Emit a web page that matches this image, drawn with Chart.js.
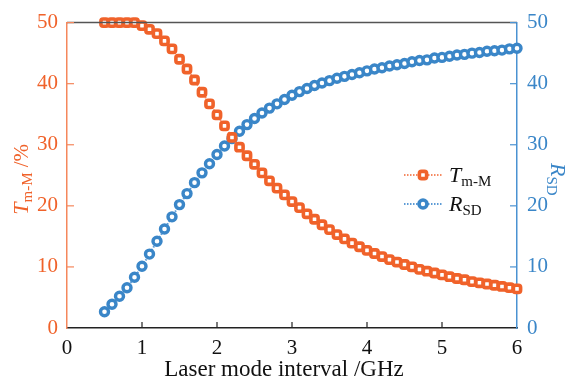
<!DOCTYPE html>
<html><head><meta charset="utf-8">
<script src="https://cdn.jsdelivr.net/npm/chart.js@4.4.1/dist/chart.umd.min.js"></script>
<style>html,body{margin:0;padding:0;background:#fff}#wrap{width:566px;height:380px}</style>
</head><body><div id="wrap"><canvas id="c" width="566" height="380"></canvas></div>
<script>
const xs = [0.5,0.6,0.7,0.8,0.9,1.0,1.1,1.2,1.3,1.4,1.5,1.6,1.7,1.8,1.9,2.0,2.1,2.2,2.3,2.4,2.5,2.6,2.7,2.8,2.9,3.0,3.1,3.2,3.3,3.4,3.5,3.6,3.7,3.8,3.9,4.0,4.1,4.2,4.3,4.4,4.5,4.6,4.7,4.8,4.9,5.0,5.1,5.2,5.3,5.4,5.5,5.6,5.7,5.8,5.9,6.0];
const tmm = [50,50,50,50,50,49.5,48.9,48.2,47.0,45.7,44.0,42.4,40.6,38.6,36.7,34.9,33.1,31.2,29.6,28.2,26.8,25.4,24.1,22.9,21.8,20.7,19.7,18.7,17.8,16.9,16.1,15.3,14.6,13.9,13.3,12.7,12.2,11.7,11.2,10.8,10.4,10.0,9.6,9.3,9.0,8.7,8.4,8.1,7.9,7.6,7.4,7.2,7.0,6.8,6.6,6.4];
const rsd = [2.65,3.9,5.2,6.6,8.3,10.1,12.1,14.2,16.2,18.2,20.2,22.0,23.8,25.4,26.9,28.4,29.8,31.0,32.2,33.3,34.3,35.2,36.0,36.7,37.4,38.1,38.7,39.2,39.7,40.1,40.5,40.9,41.2,41.5,41.8,42.1,42.4,42.6,42.9,43.1,43.3,43.6,43.8,43.9,44.2,44.3,44.5,44.7,44.8,45.0,45.1,45.3,45.4,45.5,45.7,45.8];
const xTicks = [0,1,2,3,4,5,6];
const yTicks = [0,10,20,30,40,50];
const xTitle = 'Laser mode interval /GHz';
const leftTitle = [['T','i'],['m-M','s'],[' /%','n']];
const rightTitle = [['R','i'],['SD','s']];

const ORANGE = '#F0622A', ORANGE_AX = '#F5875C';
const BLUE = '#3A86C8', BLUE_AX = '#4A92D2';
const SERIF = '"Liberation Serif", "DejaVu Serif", serif';

function segFont(kind){
  if(kind==='i') return 'italic 22px ' + SERIF;
  if(kind==='s') return '15px ' + SERIF;
  return '21px ' + SERIF;
}
function richWidth(ctx, segs){
  let w=0; for(const [t,k] of segs){ctx.font=segFont(k); w+=ctx.measureText(t).width;} return w;
}
function drawRich(ctx, segs, x, y){
  for(const [t,k] of segs){
    ctx.font=segFont(k);
    const dy = k==='s'?4:0;
    ctx.fillText(t,x,y+dy);
    x+=ctx.measureText(t).width;
  }
}

const decor = {
  id:'decor',
  afterDraw(chart){
    const ctx=chart.ctx, a=chart.chartArea;
    const sx=chart.scales.x, yl=chart.scales.yL, yr=chart.scales.yR;
    ctx.save();
    ctx.strokeStyle='#555'; ctx.lineWidth=1.5;
    ctx.beginPath(); ctx.moveTo(a.left,a.top); ctx.lineTo(a.right,a.top); ctx.stroke();
    ctx.lineWidth=1.2;
    ctx.strokeStyle='#222';
    for(const v of xTicks){const p=sx.getPixelForValue(v); if(v===0||v===6) continue; ctx.beginPath(); ctx.moveTo(p,a.bottom); ctx.lineTo(p,a.bottom-6); ctx.stroke();}
    ctx.strokeStyle=ORANGE_AX;
    for(const v of yTicks){const p=yl.getPixelForValue(v); if(v===0) continue; ctx.beginPath(); ctx.moveTo(a.left,p); ctx.lineTo(a.left+7,p); ctx.stroke();}
    ctx.strokeStyle=BLUE_AX;
    for(const v of yTicks){const p=yr.getPixelForValue(v); if(v===0) continue; ctx.beginPath(); ctx.moveTo(a.right,p); ctx.lineTo(a.right-7,p); ctx.stroke();}
    ctx.fillStyle='#111'; ctx.font='23px '+SERIF; ctx.textAlign='center'; ctx.textBaseline='alphabetic';
    ctx.fillText(xTitle,(a.left+a.right)/2-8,376);
    ctx.textAlign='left';
    ctx.save(); ctx.fillStyle=ORANGE;
    const cy=(a.top+a.bottom)/2+4;
    ctx.translate(28,cy); ctx.rotate(-Math.PI/2);
    const wl=richWidth(ctx,leftTitle); drawRich(ctx,leftTitle,-wl/2,0);
    ctx.restore();
    ctx.save(); ctx.fillStyle=BLUE;
    ctx.translate(551,cy); ctx.rotate(Math.PI/2);
    const wr=richWidth(ctx,rightTitle); drawRich(ctx,rightTitle,-wr/2,0);
    ctx.restore();
    const items=[{c:ORANGE,lc:'#F58A62',segs:[['T','i'],['m-M','s']],style:'rectRounded',r:4.2,y:175},
                 {c:BLUE,lc:'#5C9BD6',segs:[['R','i'],['SD','s']],style:'circle',r:4,y:204}];
    for(const it of items){
      ctx.strokeStyle=it.lc; ctx.lineWidth=2; ctx.setLineDash([1.5,1.5]);
      ctx.beginPath(); ctx.moveTo(404,it.y); ctx.lineTo(443,it.y); ctx.stroke();
      ctx.setLineDash([]);
      ctx.fillStyle='#fff'; ctx.strokeStyle=it.c; ctx.lineWidth=3.6;
      Chart.helpers.drawPoint(ctx,{pointStyle:it.style,radius:it.r,rotation:0,borderWidth:3.6},423,it.y);
      ctx.fillStyle='#111';
      drawRich(ctx,it.segs,449,it.y+7);
    }
    ctx.restore();
  }
};

new Chart(document.getElementById('c'),{
  type:'line',
  data:{datasets:[
    {label:'Tm-M',data:xs.map((x,i)=>({x,y:tmm[i]})),yAxisID:'yL',borderColor:'#F58A62',borderWidth:2,borderDash:[1.5,1.5],
     pointStyle:'rectRounded',pointRadius:4.2,pointBorderWidth:3.6,pointBorderColor:ORANGE,pointBackgroundColor:'#fff',clip:false,tension:0},
    {label:'RSD',data:xs.map((x,i)=>({x,y:rsd[i]})),yAxisID:'yR',borderColor:'#5C9BD6',borderWidth:2,borderDash:[1.5,1.5],
     pointStyle:'circle',pointRadius:4,pointBorderWidth:3.4,pointBorderColor:BLUE,pointBackgroundColor:'#fff',clip:false,tension:0}
  ]},
  options:{
    responsive:false,animation:false,devicePixelRatio:1,
    layout:{padding:{top:21,left:0,right:0,bottom:0}},
    plugins:{legend:{display:false},tooltip:{enabled:false}},
    scales:{
      x:{type:'linear',min:0,max:6,afterBuildTicks:s=>{s.ticks=xTicks.map(v=>({value:v}));},
         afterFit:s=>{s.height=52;},
         grid:{display:false,drawTicks:false},border:{display:true,color:'#222',width:1.5},
         ticks:{color:'#111',font:{family:SERIF,size:21},padding:8,maxRotation:0}},
      yL:{position:'left',min:0,max:50,afterBuildTicks:s=>{s.ticks=yTicks.map(v=>({value:v}));},
         afterFit:s=>{s.width=67;},
         grid:{display:false,drawTicks:false},border:{display:true,color:ORANGE_AX,width:1.5},
         ticks:{color:ORANGE,font:{family:SERIF,size:21},padding:9}},
      yR:{position:'right',min:0,max:50,afterBuildTicks:s=>{s.ticks=yTicks.map(v=>({value:v}));},
         afterFit:s=>{s.width=49;},
         grid:{display:false,drawTicks:false},border:{display:true,color:BLUE_AX,width:1.5},
         ticks:{color:BLUE,font:{family:SERIF,size:21},padding:10}}
    }
  },
  plugins:[decor]
});
</script></body></html>
